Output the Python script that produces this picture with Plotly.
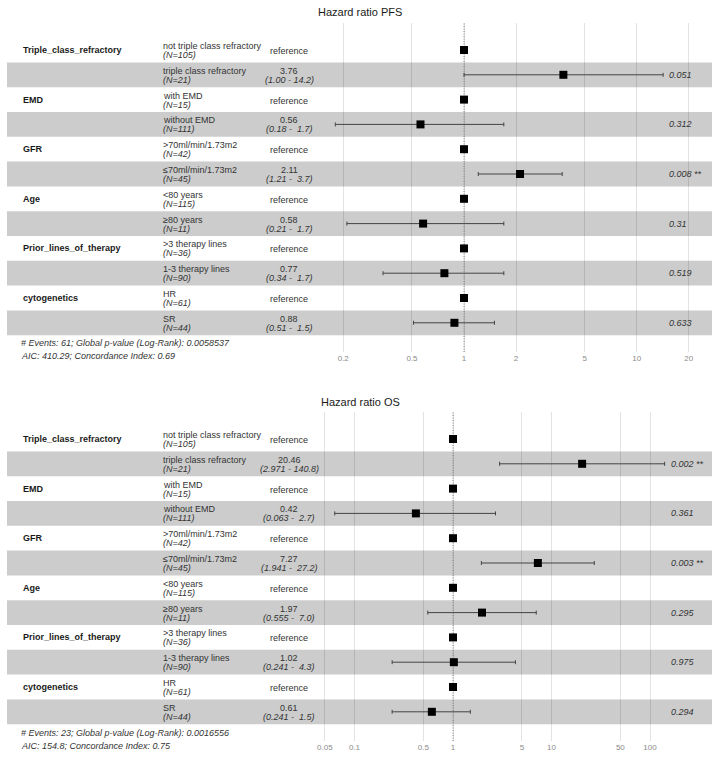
import plotly.graph_objects as go

W, H = 717, 759
FONT = "Arial, 'Liberation Sans', sans-serif"

# ---------------- data ----------------
variables = ["Triple_class_refractory", "EMD", "GFR", "Age",
             "Prior_lines_of_therapy", "cytogenetics"]
levels = ["not triple class refractory", "triple class refractory",
          "with EMD", "without EMD",
          ">70ml/min/1.73m2", "≤70ml/min/1.73m2",
          "<80 years", "≥80 years",
          ">3 therapy lines", "1-3 therapy lines",
          "HR", "SR"]
n_obs = [105, 21, 15, 111, 42, 45, 115, 11, 36, 90, 61, 44]

# PFS model (reference rows have None)
pfs_hr = [None, 3.76, None, 0.56, None, 2.11, None, 0.58, None, 0.77, None, 0.88]
pfs_lower = [None, 1.00, None, 0.18, None, 1.21, None, 0.21, None, 0.34, None, 0.51]
pfs_upper = [None, 14.2, None, 1.7, None, 3.7, None, 1.7, None, 1.7, None, 1.5]
pfs_hr_text = [None, "3.76", None, "0.56", None, "2.11", None, "0.58", None, "0.77", None, "0.88"]
pfs_ci_text = [None, "(1.00 - 14.2)", None, "(0.18 -  1.7)", None, "(1.21 -  3.7)",
               None, "(0.21 -  1.7)", None, "(0.34 -  1.7)", None, "(0.51 -  1.5)"]
pfs_p = [None, "0.051", None, "0.312", None, "0.008 **", None, "0.31", None, "0.519", None, "0.633"]
pfs_foot = ["# Events: 61; Global p-value (Log-Rank): 0.0058537",
            "AIC: 410.29; Concordance Index: 0.69"]
pfs_ticks = [0.2, 0.5, 1, 2, 5, 10, 20]
pfs_ticklabels = ["0.2", "0.5", "1", "2", "5", "10", "20"]

# OS model
os_hr = [None, 20.46, None, 0.42, None, 7.27, None, 1.97, None, 1.02, None, 0.61]
os_lower = [None, 2.971, None, 0.063, None, 1.941, None, 0.555, None, 0.241, None, 0.241]
os_upper = [None, 140.8, None, 2.7, None, 27.2, None, 7.0, None, 4.3, None, 1.5]
os_hr_text = [None, "20.46", None, "0.42", None, "7.27", None, "1.97", None, "1.02", None, "0.61"]
os_ci_text = [None, "(2.971 - 140.8)", None, "(0.063 -  2.7)", None, "(1.941 -  27.2)",
              None, "(0.555 -  7.0)", None, "(0.241 -  4.3)", None, "(0.241 -  1.5)"]
os_p = [None, "0.002 **", None, "0.361", None, "0.003 **", None, "0.295", None, "0.975", None, "0.294"]
os_foot = ["# Events: 23; Global p-value (Log-Rank): 0.0016556",
           "AIC: 154.8; Concordance Index: 0.75"]
os_ticks = [0.05, 0.1, 0.5, 1, 5, 10, 50, 100]
os_ticklabels = ["0.05", "0.1", "0.5", "1", "5", "10", "50", "100"]

# ---------------- layout geometry (pixels) ----------------
PX_L, PX_R = 7, 712          # panel left/right edge
PITCH = 24.8                 # row height in px
panels = [
    dict(title="Hazard ratio PFS", hr=pfs_hr, lo=pfs_lower, hi=pfs_upper,
         hr_text=pfs_hr_text, ci_text=pfs_ci_text, p=pfs_p, foot=pfs_foot,
         ticks=pfs_ticks, ticklabels=pfs_ticklabels,
         title_y=12, top=23, bottom=352, one_px=464, decade_px=172.8, p_x=667,
         foot_y=(343, 356)),
    dict(title="Hazard ratio OS", hr=os_hr, lo=os_lower, hi=os_upper,
         hr_text=os_hr_text, ci_text=os_ci_text, p=os_p, foot=os_foot,
         ticks=os_ticks, ticklabels=os_ticklabels,
         title_y=402, top=412, bottom=741, one_px=453, decade_px=98.5, p_x=669,
         foot_y=(733, 746)),
]

def px(x):
    return x / W

def py(y):
    return (H - y) / H

var_rows = {2 * i: v for i, v in enumerate(variables)}

fig = go.Figure()
annotations = []
shapes = []
layout_axes = {}

for k, pn in enumerate(panels):
    sfx = "" if k == 0 else str(k + 1)
    xa, ya = "x" + sfx, "y" + sfx
    row0_px = pn["top"] + 27
    r_top = (pn["top"] - row0_px) / PITCH
    r_bot = (pn["bottom"] - row0_px) / PITCH
    lr0 = -(pn["one_px"] - PX_L) / pn["decade_px"]
    lr1 = lr0 + (PX_R - PX_L) / pn["decade_px"]

    layout_axes["xaxis" + sfx] = dict(
        type="log", range=[lr0, lr1], domain=[px(PX_L), px(PX_R)],
        anchor=ya, tickvals=pn["ticks"], ticktext=pn["ticklabels"],
        showgrid=True, gridcolor="rgba(0,0,0,0.11)", gridwidth=1, zeroline=False,
        showline=False, ticks="", ticklen=0,
        tickfont=dict(family=FONT, size=8, color="#8a8a8a"), fixedrange=True)
    layout_axes["yaxis" + sfx] = dict(
        range=[r_bot, r_top], domain=[py(pn["bottom"]), py(pn["top"])],
        anchor=xa, showgrid=False, zeroline=False, showticklabels=False,
        showline=False, ticks="", fixedrange=True)

    rows = list(range(len(levels)))

    # alternating bands
    for r in rows:
        if r % 2 == 1:
            shapes.append(dict(type="rect", xref="paper", yref=ya,
                               x0=px(PX_L), x1=px(PX_R), y0=r - 0.5, y1=r + 0.5,
                               fillcolor="#cccccc", line=dict(width=0),
                               layer="below"))
    # reference dotted line at HR = 1
    shapes.append(dict(type="line", xref=xa, yref="paper", x0=1, x1=1,
                       y0=py(pn["bottom"]), y1=py(pn["top"]),
                       line=dict(color="#888888", width=1, dash="1px,1.5px"), layer="below"))

    est_rows = [r for r in rows if pn["hr"][r] is not None]
    ref_rows = [r for r in rows if pn["hr"][r] is None]
    fig.add_trace(go.Scatter(
        x=[pn["hr"][r] for r in est_rows], y=est_rows, xaxis=xa, yaxis=ya,
        mode="markers", marker=dict(symbol="square", size=8, color="black"),
        error_x=dict(type="data", symmetric=False,
                     array=[pn["hi"][r] - pn["hr"][r] for r in est_rows],
                     arrayminus=[pn["hr"][r] - pn["lo"][r] for r in est_rows],
                     color="#444444", thickness=1, width=2),
        showlegend=False, hoverinfo="skip"))
    fig.add_trace(go.Scatter(
        x=[1] * len(ref_rows), y=ref_rows, xaxis=xa, yaxis=ya,
        mode="markers", marker=dict(symbol="square", size=8, color="black"),
        showlegend=False, hoverinfo="skip"))

    annotations.append(dict(text=pn["title"], xref="paper", yref="paper",
                            x=px(360), y=py(pn["title_y"]), xanchor="center", yanchor="middle",
                            showarrow=False, font=dict(family=FONT, size=11, color="#1a1a1a")))

    for r in rows:
        if r in var_rows:
            annotations.append(dict(text="<b>" + var_rows[r] + "</b>", xref="paper", yref=ya,
                                    x=px(21), y=r, xanchor="left", yanchor="middle",
                                    showarrow=False,
                                    font=dict(family=FONT, size=9, color="#1a1a1a")))
        annotations.append(dict(text=levels[r], xref="paper", yref=ya, x=px(161), y=r,
                                yshift=4, xanchor="left", yanchor="middle", showarrow=False,
                                font=dict(family=FONT, size=9, color="#333333")))
        annotations.append(dict(text="<i>(N=%d)</i>" % n_obs[r], xref="paper", yref=ya,
                                x=px(161), y=r, yshift=-5, xanchor="left", yanchor="middle",
                                showarrow=False, font=dict(family=FONT, size=9, color="#333333")))
        if pn["hr"][r] is None:
            annotations.append(dict(text="reference", xref="paper", yref=ya, x=px(289), y=r,
                                    yshift=-1, xanchor="center", yanchor="middle",
                                    showarrow=False,
                                    font=dict(family=FONT, size=9, color="#333333")))
        else:
            annotations.append(dict(text=pn["hr_text"][r], xref="paper", yref=ya, x=px(289),
                                    y=r, yshift=4, xanchor="center", yanchor="middle",
                                    showarrow=False,
                                    font=dict(family=FONT, size=9, color="#333333")))
            annotations.append(dict(text="<i>" + pn["ci_text"][r].replace("  ", " \u00a0") + "</i>",
                                    xref="paper", yref=ya, x=px(289), y=r, yshift=-5,
                                    xanchor="center", yanchor="middle", showarrow=False,
                                    font=dict(family=FONT, size=9, color="#333333")))
            annotations.append(dict(text="<i>" + pn["p"][r] + "</i>", xref="paper", yref=ya,
                                    x=px(pn["p_x"]), y=r, xanchor="left", yanchor="middle",
                                    showarrow=False,
                                    font=dict(family=FONT, size=9, color="#333333")))

    for line, yy in zip(pn["foot"], pn["foot_y"]):
        annotations.append(dict(text="<i>" + line + "</i>", xref="paper", yref="paper",
                                x=px(19), y=py(yy), xanchor="left", yanchor="middle",
                                showarrow=False, font=dict(family=FONT, size=9, color="#333333")))

fig.update_layout(
    width=W, height=H, margin=dict(l=0, r=0, t=0, b=0),
    paper_bgcolor="white", plot_bgcolor="rgba(0,0,0,0)",
    annotations=annotations, shapes=shapes, showlegend=False,
    **layout_axes)

fig.write_html("out.html")
